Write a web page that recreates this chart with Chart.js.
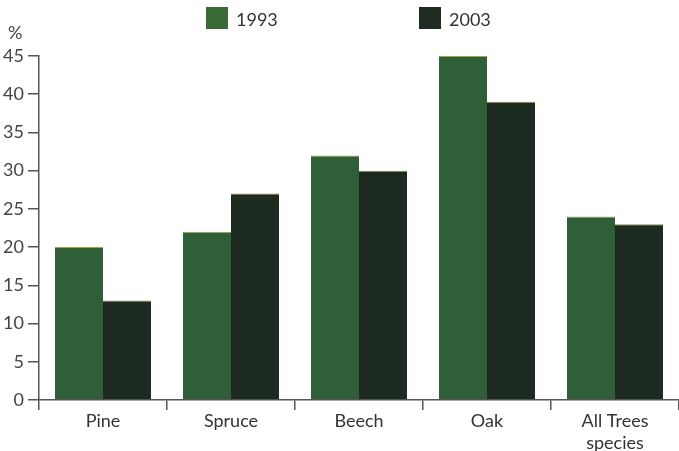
<!DOCTYPE html>
<html>
<head>
<meta charset="utf-8">
<script src="https://cdn.jsdelivr.net/npm/chart.js@4/dist/chart.umd.min.js"></script>
<style>
  html, body { margin: 0; padding: 0; background: #fff; }
  #wrap { width: 679px; height: 451px; }
</style>
</head>
<body>
<div id="wrap"><canvas id="trees"></canvas></div>
<script>
const species = ["Pine", "Spruce", "Beech", "Oak", ["All Trees", "species"]];
const share1993 = [20, 22, 32, 45, 24];
const share2003 = [13, 27, 30, 39, 23];
const years = ["1993", "2003"];
const colors = ["#2e5f37", "#1c2a1f"];
const legendColors = ["#3a6a36", "#1f2b20"];

const FONT = "Lato, 'Open Sans', sans-serif";
const axisColor = "#555";

// legend row and the "%" unit drawn above the plot
const headerPlugin = {
  id: "header",
  afterDraw(chart) {
    const ctx = chart.ctx;
    ctx.save();
    ctx.font = "18px " + FONT;
    ctx.textBaseline = "middle";
    ctx.textAlign = "left";
    const xs = [206, 419];
    years.forEach((y, i) => {
      ctx.fillStyle = legendColors[i];
      ctx.fillRect(xs[i], 7, 22, 22);
      ctx.fillStyle = "#333";
      ctx.fillText(y, xs[i] + 30, 20);
    });
    ctx.fillStyle = "#444";
    ctx.fillText("%", 8, 33);
    ctx.restore();
  },
};

const ctx = document.querySelector("#trees");
new Chart(ctx, {
  type: "bar",
  data: {
    labels: species,
    datasets: [
      {
        label: years[0],
        data: share1993,
        backgroundColor: colors[0],
        borderColor: "#a8a24a",
        borderWidth: { top: 1, left: 0, right: 0, bottom: 0 },
        borderSkipped: "bottom",
      },
      {
        label: years[1],
        data: share2003,
        backgroundColor: colors[1],
        borderColor: "#8c8840",
        borderWidth: { top: 1, left: 0, right: 0, bottom: 0 },
        borderSkipped: "bottom",
      },
    ],
  },
  options: {
    responsive: true,
    maintainAspectRatio: false,
    animation: false,
    categoryPercentage: 0.75,
    barPercentage: 1.0,
    layout: { padding: { top: 56, right: 0, bottom: 0, left: 0 } },
    plugins: {
      legend: { display: false },
      tooltip: { enabled: false },
    },
    scales: {
      x: {
        offset: true,
        afterFit: (scale) => { scale.height = 51; },
        grid: {
          offset: true,
          drawOnChartArea: false,
          tickLength: 10,
          color: axisColor,
          lineWidth: 1.5,
        },
        border: { color: axisColor, width: 1.5 },
        ticks: {
          color: "#333",
          padding: 0,
          font: { family: FONT, size: 18, lineHeight: 1.22 },
          maxRotation: 0,
        },
      },
      y: {
        min: 0,
        max: 45,
        afterFit: (scale) => { scale.width = 39; },
        grid: {
          drawOnChartArea: false,
          tickLength: 11,
          color: axisColor,
          lineWidth: 1.5,
        },
        border: { color: axisColor, width: 1.5 },
        ticks: {
          stepSize: 5,
          color: "#444",
          padding: 4,
          font: { family: FONT, size: 18 },
        },
      },
    },
  },
  plugins: [headerPlugin],
});
</script>
</body>
</html>
